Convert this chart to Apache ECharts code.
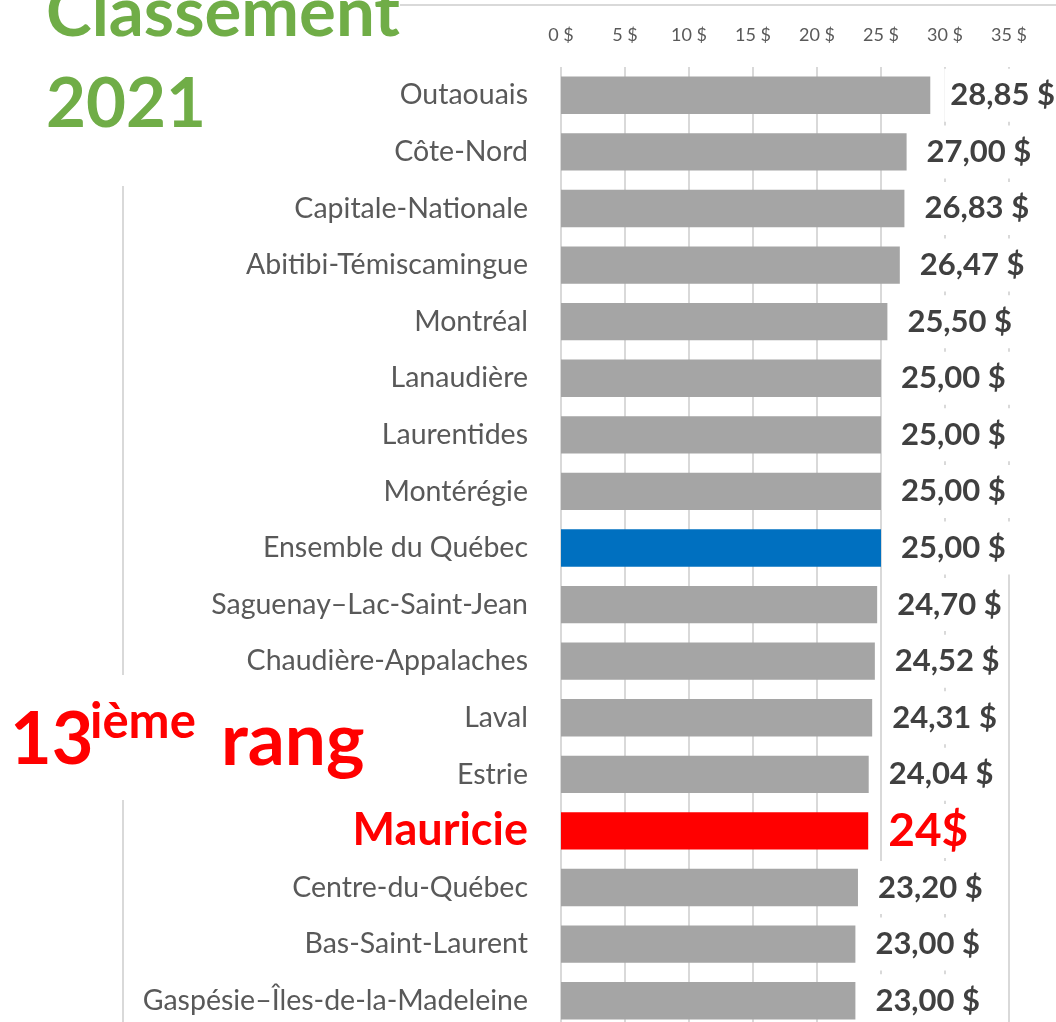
<!DOCTYPE html>
<html>
<head>
<meta charset="utf-8">
<script src="https://cdn.jsdelivr.net/npm/echarts@6/dist/echarts.min.js"></script>
<style>
html,body{margin:0;padding:0;background:#fff;overflow:hidden;}
#chart{width:1056px;height:1030px;}
</style>
</head>
<body>
<div id="chart"></div>
<script>
const categories = [
  'Outaouais', 'Côte-Nord', 'Capitale-Nationale', 'Abitibi-Témiscamingue', 'Montréal',
  'Lanaudière', 'Laurentides', 'Montérégie', 'Ensemble du Québec', 'Saguenay–Lac-Saint-Jean',
  'Chaudière-Appalaches', 'Laval', 'Estrie', 'Mauricie', 'Centre-du-Québec',
  'Bas-Saint-Laurent', 'Gaspésie–Îles-de-la-Madeleine'
];
const values = [28.85, 27.00, 26.83, 26.47, 25.50, 25.00, 25.00, 25.00, 25.00, 24.70, 24.52, 24.31, 24.04, 24, 23.20, 23.00, 23.00];
const xTicks = [0, 5, 10, 15, 20, 25, 30, 35];
const highlightRegion = 'Mauricie';
const averageRegion = 'Ensemble du Québec';
const titleLines = ['Classement', '2021'];
const rankText = ['13', 'ième', 'rang'];

const FONT = 'Lato';
const GRAY = '#A5A5A5', BLUE = '#0070C0', RED = '#FF0000', GREEN = '#70AD47';

const fmt = v => v.toFixed(2).replace('.', ',') + ' $';

const seriesData = categories.map((c, i) => {
  const item = { value: values[i] };
  if (c === highlightRegion) {
    item.itemStyle = { color: RED };
    item.label = { color: RED, fontSize: 46, fontWeight: 'bold', formatter: String(values[i]) + '$', padding: [4, 4], distance: 16 };
  } else if (c === averageRegion) {
    item.itemStyle = { color: BLUE };
  }
  return item;
});

const chart = echarts.init(document.getElementById('chart'), null, { renderer: 'canvas' });
chart.setOption({
  animation: false,
  backgroundColor: '#fff',
  grid: { left: 561, width: 448, top: 67, height: 962, containLabel: false },
  xAxis: {
    type: 'value', position: 'top', min: xTicks[0], max: xTicks[xTicks.length - 1], interval: 5,
    axisLine: { show: false }, axisTick: { show: false },
    axisLabel: { formatter: '{value} $', color: '#595959', fontFamily: FONT, fontSize: 18, margin: 23 },
    splitLine: { show: true, lineStyle: { color: '#D9D9D9', width: 2 } }
  },
  yAxis: {
    type: 'category', data: categories, inverse: true,
    axisLine: { show: false }, axisTick: { show: false },
    axisLabel: {
      color: '#595959', fontFamily: FONT, fontSize: 28.5, margin: 33,
      formatter: v => v === highlightRegion ? '{m|' + v + '}' : v,
      rich: { m: { color: RED, fontFamily: FONT, fontSize: 45, fontWeight: 'bold' } }
    }
  },
  series: [{
    type: 'bar', data: seriesData, barCategoryGap: '34%',
    itemStyle: { color: GRAY },
    label: {
      show: true, position: 'right', distance: 14,
      formatter: p => fmt(p.value),
      color: '#404040', fontFamily: FONT, fontWeight: 'bold', fontSize: 31,
      backgroundColor: '#fff', padding: [11, 6]
    }
  }],
  graphic: [
    { type: 'line', shape: { x1: 400, y1: 5, x2: 1056, y2: 5 }, style: { stroke: '#D9D9D9', lineWidth: 2 }, z: 1 },
    { type: 'line', shape: { x1: 123, y1: 186, x2: 123, y2: 675 }, style: { stroke: '#D9D9D9', lineWidth: 2 }, z: 1 },
    { type: 'line', shape: { x1: 123, y1: 800, x2: 123, y2: 1030 }, style: { stroke: '#D9D9D9', lineWidth: 2 }, z: 1 },
    { type: 'text', left: 46, top: -21, z: 10, style: { text: titleLines[0], fill: GREEN, font: 'bold 69px ' + FONT } },
    { type: 'text', left: 46, top: 70, z: 10, style: { text: titleLines[1], fill: GREEN, font: 'bold 69px ' + FONT } },
    { type: 'text', left: 10, top: 705, z: 10, style: { text: rankText[0], fill: RED, font: 'bold 72px ' + FONT } },
    { type: 'text', left: 90, top: 698, z: 10, style: { text: rankText[1], fill: RED, font: 'bold 49px ' + FONT } },
    { type: 'text', left: 221, top: 705, z: 10, style: { text: rankText[2], fill: RED, font: 'bold 73px ' + FONT } }
  ]
});
</script>
</body>
</html>
